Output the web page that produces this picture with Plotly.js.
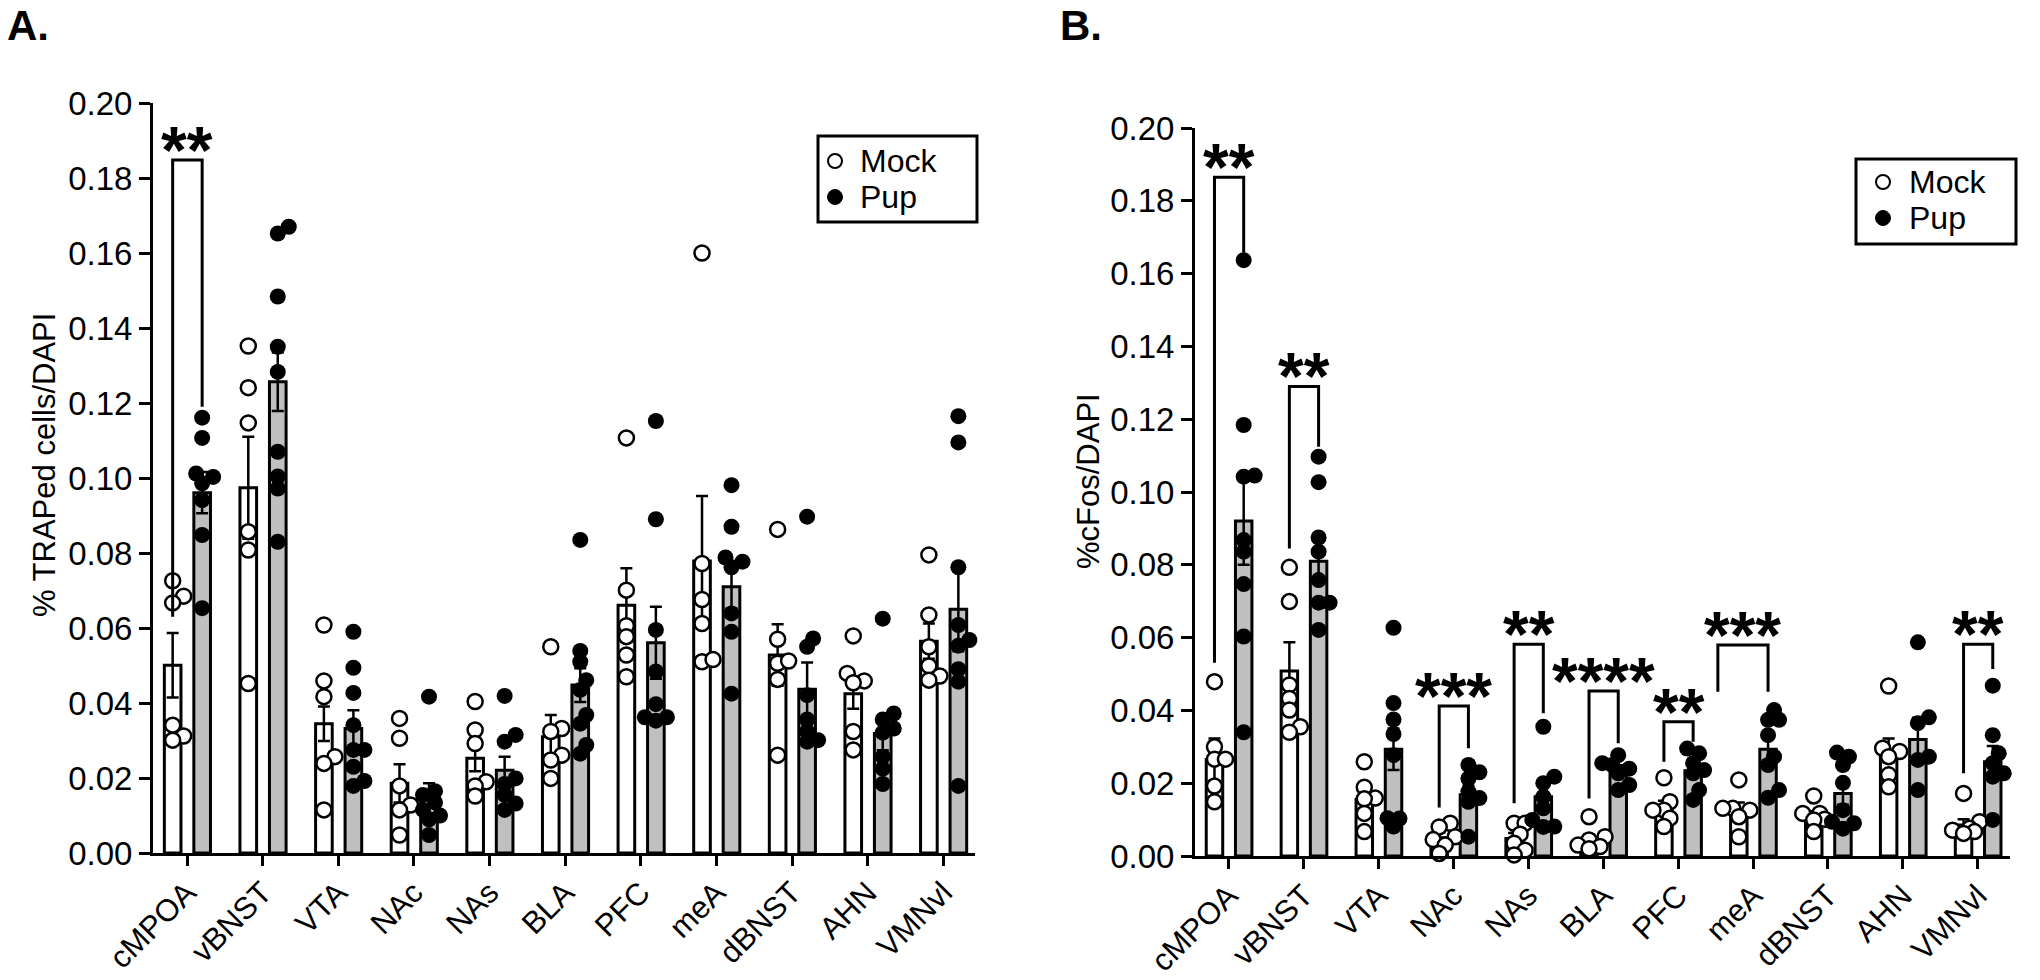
<!DOCTYPE html>
<html><head><meta charset="utf-8">
<script src="https://cdn.plot.ly/plotly-3.0.1.min.js"></script>
<style>html,body{margin:0;padding:0;background:#fff}#chart{width:2040px;height:980px}</style>
</head><body><div id="chart"></div><script>
// ---------- DATA ----------
const regions = ['cMPOA','vBNST','VTA','NAc','NAs','BLA','PFC','meA','dBNST','AHN','VMNvl'];
const yTickVals = [0,0.02,0.04,0.06,0.08,0.10,0.12,0.14,0.16,0.18,0.20];
const groups = ['Mock','Pup'];

// Panel A: % TRAPed cells/DAPI
const aMockMean = [0.0501,0.0974,0.0345,0.0186,0.0253,0.0310,0.0661,0.0779,0.0528,0.0425,0.0565];
const aMockSem  = [0.0086,0.0136,0.0046,0.0051,0.0035,0.0058,0.0098,0.0173,0.0082,0.0040,0.0047];
const aPupMean  = [0.0961,0.1257,0.0332,0.0146,0.0221,0.0448,0.0561,0.0710,0.0437,0.0319,0.0650];
const aPupSem   = [0.0055,0.0078,0.0049,0.0040,0.0036,0.0045,0.0096,0.0058,0.0071,0.0045,0.0112];
const aMockPts = [
  [0.0726,0.0685,0.0667,0.0341,0.0312,0.0301],
  [0.1352,0.1241,0.1147,0.0857,0.0808,0.0452],
  [0.0608,0.0459,0.0417,0.0257,0.0239,0.0115],
  [0.0359,0.0306,0.0179,0.0128,0.0115,0.0048],
  [0.0404,0.0328,0.0292,0.0190,0.0179,0.0152],
  [0.0550,0.0332,0.0324,0.0261,0.0248,0.0199],
  [0.1107,0.0701,0.0606,0.0577,0.0528,0.0470],
  [0.1600,0.0772,0.0676,0.0612,0.0510,0.0516],
  [0.0863,0.0570,0.0506,0.0512,0.0463,0.0261],
  [0.0579,0.0479,0.0459,0.0454,0.0324,0.0275],
  [0.0795,0.0635,0.0550,0.0499,0.0472,0.0461]
];
const aPupPts = [
  [0.1161,0.1107,0.1012,0.1003,0.0986,0.0941,0.0848,0.0653],
  [0.1670,0.1652,0.1484,0.1350,0.1283,0.1070,0.1004,0.0972,0.0830],
  [0.0590,0.0494,0.0427,0.0341,0.0275,0.0275,0.0230,0.0192,0.0179],
  [0.0417,0.0165,0.0155,0.0135,0.0115,0.0100,0.0090,0.0048],
  [0.0419,0.0315,0.0297,0.0199,0.0184,0.0155,0.0132,0.0115],
  [0.0835,0.0539,0.0510,0.0461,0.0435,0.0368,0.0345,0.0288,0.0265],
  [0.1152,0.0890,0.0595,0.0484,0.0397,0.0362,0.0362,0.0353],
  [0.0981,0.0870,0.0788,0.0777,0.0762,0.0639,0.0590,0.0425],
  [0.0897,0.0572,0.0550,0.0421,0.0356,0.0324,0.0301,0.0297],
  [0.0625,0.0372,0.0356,0.0332,0.0321,0.0257,0.0225,0.0184],
  [0.1165,0.1095,0.0762,0.0608,0.0568,0.0553,0.0490,0.0457,0.0179]
];
const aSigCat   = [0];
const aSigText  = ['**'];
const aSigTop   = [0.1848];
const aSigLeft  = [0.063];
const aSigRight = [0.119];

// Panel B: %cFos/DAPI
const bMockMean = [0.0265,0.0508,0.0155,0.0050,0.0048,0.0045,0.0132,0.0125,0.0110,0.0290,0.0085];
const bMockSem  = [0.0058,0.0079,0.0030,0.0014,0.0015,0.0014,0.0020,0.0022,0.0013,0.0033,0.0016];
const bPupMean  = [0.0920,0.0810,0.0293,0.0168,0.0163,0.0236,0.0234,0.0293,0.0172,0.0320,0.0259];
const bPupSem   = [0.0120,0.0055,0.0057,0.0025,0.0032,0.0013,0.0017,0.0030,0.0031,0.0060,0.0043];
const bMockPts = [
  [0.0479,0.0300,0.0266,0.0266,0.0192,0.0149],
  [0.0793,0.0699,0.0470,0.0433,0.0401,0.0355,0.0340],
  [0.0259,0.0189,0.0159,0.0157,0.0117,0.0067],
  [0.0090,0.0080,0.0053,0.0045,0.0030,0.0007],
  [0.0090,0.0090,0.0060,0.0035,0.0016,0.0003],
  [0.0108,0.0053,0.0044,0.0030,0.0026,0.0020],
  [0.0215,0.0149,0.0126,0.0126,0.0104,0.0081],
  [0.0209,0.0131,0.0126,0.0131,0.0108,0.0053],
  [0.0165,0.0117,0.0117,0.0101,0.0099,0.0067],
  [0.0467,0.0296,0.0287,0.0273,0.0223,0.0190],
  [0.0172,0.0094,0.0076,0.0071,0.0067,0.0062]
];
const bPupPts = [
  [0.1637,0.1184,0.1045,0.1042,0.0868,0.0836,0.0747,0.0603,0.0340],
  [0.1097,0.1027,0.0875,0.0836,0.0758,0.0696,0.0696,0.0621],
  [0.0627,0.0420,0.0375,0.0335,0.0277,0.0104,0.0103,0.0081],
  [0.0250,0.0230,0.0213,0.0177,0.0159,0.0149,0.0053],
  [0.0355,0.0218,0.0200,0.0163,0.0131,0.0099,0.0081,0.0080],
  [0.0277,0.0255,0.0250,0.0240,0.0227,0.0195,0.0181],
  [0.0295,0.0282,0.0255,0.0236,0.0227,0.0181,0.0154],
  [0.0401,0.0374,0.0374,0.0332,0.0273,0.0250,0.0181,0.0160],
  [0.0284,0.0273,0.0250,0.0201,0.0126,0.0094,0.0090,0.0075],
  [0.0587,0.0381,0.0365,0.0273,0.0264,0.0181],
  [0.0468,0.0332,0.0282,0.0255,0.0227,0.0218,0.0099]
];
const bSigCat   = [0,1,3,4,5,6,7,10];
const bSigText  = ['**','**','***','**','****','**','***','**'];
const bSigTop   = [0.1865,0.1290,0.0412,0.0582,0.0453,0.0369,0.0580,0.0582];
const bSigLeft  = [0.0531,0.0845,0.0133,0.0145,0.0158,0.0259,0.0451,0.0227];
const bSigRight = [0.1657,0.1124,0.0296,0.0392,0.0310,0.0314,0.0451,0.0514];

// ---------- STYLE / GEOMETRY ----------
const FONT = 'Liberation Sans, Arial, Helvetica, sans-serif';
const W = 2040, H = 980;
const MOCK_C = -0.19, PUP_C = 0.20, BAR_W = 0.22;
const bracketLeftX = {7: -0.47};  // meA bracket in B starts further left
const panels = [
  {xa:'x', ya:'y', xr:[-0.45,10.42], px0:153, px1:975, py0:853, py1:103,
   mockMean:aMockMean, mockSem:aMockSem, pupMean:aPupMean, pupSem:aPupSem, mockPts:aMockPts, pupPts:aPupPts,
   sigCat:aSigCat, sigText:aSigText, sigTop:aSigTop, sigLeft:aSigLeft, sigRight:aSigRight,
   title:'% TRAPed cells/DAPI', titleX:44, titleY:465, lbl:'A.', lblX:5,
   leg:{box:[818,136,977,222], mx:835, tx:858, ys:[161,197]}},
  {xa:'x2', ya:'y2', xr:[-0.45,10.43], px0:1195, px1:2010, py0:856, py1:128,
   mockMean:bMockMean, mockSem:bMockSem, pupMean:bPupMean, pupSem:bPupSem, mockPts:bMockPts, pupPts:bPupPts,
   sigCat:bSigCat, sigText:bSigText, sigTop:bSigTop, sigLeft:bSigLeft, sigRight:bSigRight,
   title:'%cFos/DAPI', titleX:1088, titleY:481, lbl:'B.', lblX:1058,
   leg:{box:[1856,159,2016,244], mx:1883, tx:1907, ys:[182,218]}}
];

function swarm(vals, pxY, minD) {
  const order = vals.map((v,i)=>i).sort((a,b)=>vals[a]-vals[b]);
  const placed = [], off = new Array(vals.length).fill(0);
  const cands = [0,6,-6,11,-11,16,-16];
  for (const i of order) {
    const y = vals[i]*pxY;
    let best = 0, bestScore = -Infinity;
    for (const c of cands) {
      let m = Infinity;
      for (const p of placed) m = Math.min(m, Math.hypot(c-p.x, y-p.y));
      if (m >= minD) { best = c; break; }
      if (m > bestScore) { bestScore = m; best = c; }
    }
    placed.push({x:best, y}); off[i] = best;
  }
  return off;
}

const traces = [], shapes = [], annotations = [];
const layout = {
  width: W, height: H, margin:{l:0,r:0,t:0,b:0}, paper_bgcolor:'white', plot_bgcolor:'white',
  barmode:'overlay', showlegend:false, font:{family:FONT, color:'black'}
};
const px = v => v / W, py = v => (H - v) / H;

panels.forEach((P, pi) => {
  const idx = regions.map((r,i)=>i);
  const pxX = (P.px1-P.px0)/(P.xr[1]-P.xr[0]);
  const pxY = (P.py0-P.py1)/0.2;
  const sfx = pi===0 ? '' : '2';
  layout['xaxis'+sfx] = {
    domain:[px(P.px0), px(P.px1)], range:P.xr, anchor:P.ya, type:'linear',
    tickvals: idx, ticktext: regions, tickangle:-45, ticklabelstandoff:-4,
    tickfont:{size:31, family:FONT, color:'black'},
    ticks:'outside', ticklen:10, tickwidth:3, tickcolor:'black',
    showline:true, linewidth:3, linecolor:'black', showgrid:false, zeroline:false, fixedrange:true
  };
  layout['yaxis'+sfx] = {
    domain:[py(P.py0), py(P.py1)], range:[0,0.2], anchor:P.xa,
    tickvals: yTickVals, tickformat:'.2f',
    tickfont:{size:33, family:FONT, color:'black'},
    ticks:'outside', ticklen:11, tickwidth:3, tickcolor:'black',
    showline:true, linewidth:3, linecolor:'black', showgrid:false, zeroline:false, fixedrange:true
  };

  // bars (mean ± SEM)
  traces.push({type:'bar', name:groups[0], x:idx, y:P.mockMean, width:BAR_W, offset:MOCK_C-BAR_W/2,
    xaxis:P.xa, yaxis:P.ya, hoverinfo:'skip',
    marker:{color:'white', line:{color:'black', width:3}},
    error_y:{type:'data', array:P.mockSem, visible:true, color:'black', thickness:2.5, width:6}});
  traces.push({type:'bar', name:groups[1], x:idx, y:P.pupMean, width:BAR_W, offset:PUP_C-BAR_W/2,
    xaxis:P.xa, yaxis:P.ya, hoverinfo:'skip',
    marker:{color:'#c0c0c0', line:{color:'black', width:3}},
    error_y:{type:'data', array:P.pupSem, visible:true, color:'black', thickness:2.5, width:6}});

  // individual points
  const mx=[], my=[], ux=[], uy=[];
  P.mockPts.forEach((arr, i) => {
    const off = swarm(arr, pxY, 10);
    arr.forEach((v,k)=>{ mx.push(i+MOCK_C+off[k]/pxX); my.push(v); });
  });
  P.pupPts.forEach((arr, i) => {
    const off = swarm(arr, pxY, 10);
    arr.forEach((v,k)=>{ ux.push(i+PUP_C+off[k]/pxX); uy.push(v); });
  });
  traces.push({type:'scatter', mode:'markers', name:groups[0], x:mx, y:my, xaxis:P.xa, yaxis:P.ya,
    cliponaxis:false, marker:{symbol:'circle', size:15, color:'white', line:{color:'black', width:2.5}}});
  traces.push({type:'scatter', mode:'markers', name:groups[1], x:ux, y:uy, xaxis:P.xa, yaxis:P.ya,
    cliponaxis:false, marker:{symbol:'circle', size:16, color:'black', line:{color:'black', width:0}}});

  // significance brackets
  P.sigCat.forEach((c, k) => {
    const lx = c + ((pi===1 && bracketLeftX[c]!==undefined) ? bracketLeftX[c] : MOCK_C);
    const rx = c + PUP_C;
    shapes.push({type:'path', xref:P.xa, yref:P.ya, layer:'above',
      path:`M ${lx},${P.sigLeft[k]} L ${lx},${P.sigTop[k]} L ${rx},${P.sigTop[k]} L ${rx},${P.sigRight[k]}`,
      line:{color:'black', width:3}});
    annotations.push({xref:P.xa, yref:P.ya, x:(lx+rx)/2, y:P.sigTop[k], text:'<b>'+P.sigText[k]+'</b>',
      showarrow:false, xanchor:'center', yanchor:'middle', yshift:10,
      font:{size:66, family:FONT, color:'black'}});
  });

  // y-axis title
  annotations.push({xref:'paper', yref:'paper', x:px(P.titleX), y:py(P.titleY), xanchor:'center', yanchor:'middle',
    text:P.title, textangle:-90, showarrow:false, font:{size:31, family:FONT, color:'black'}});

  // legend box
  const L = P.leg;
  shapes.push({type:'rect', xref:'paper', yref:'paper', x0:px(L.box[0]), x1:px(L.box[2]), y0:py(L.box[3]), y1:py(L.box[1]),
    line:{color:'black', width:3}, fillcolor:'white', layer:'above'});
  // legend symbols
  const r0 = 7, r1 = 7.5;
  shapes.push({type:'circle', xref:'paper', yref:'paper', x0:px(L.mx-r0), x1:px(L.mx+r0), y0:py(L.ys[0]+r0), y1:py(L.ys[0]-r0),
    line:{color:'black', width:2}, fillcolor:'white', layer:'above'});
  shapes.push({type:'circle', xref:'paper', yref:'paper', x0:px(L.mx-r1), x1:px(L.mx+r1), y0:py(L.ys[1]+r1), y1:py(L.ys[1]-r1),
    line:{color:'black', width:1}, fillcolor:'black', layer:'above'});
  groups.forEach((g, gi) => {
    annotations.push({xref:'paper', yref:'paper', x:px(L.tx), y:py(L.ys[gi]), xanchor:'left', yanchor:'middle',
      text:g, showarrow:false, font:{size:32, family:FONT, color:'black'}});
  });

  // panel label
  annotations.push({xref:'paper', yref:'paper', x:px(P.lblX), y:1, xanchor:'left', yanchor:'top',
    text:'<b>'+P.lbl+'</b>', showarrow:false, font:{size:42, family:FONT, color:'black'}});
});

layout.shapes = shapes;
layout.annotations = annotations;
Plotly.newPlot('chart', traces, layout, {displayModeBar:false, staticPlot:true});
</script></body></html>
